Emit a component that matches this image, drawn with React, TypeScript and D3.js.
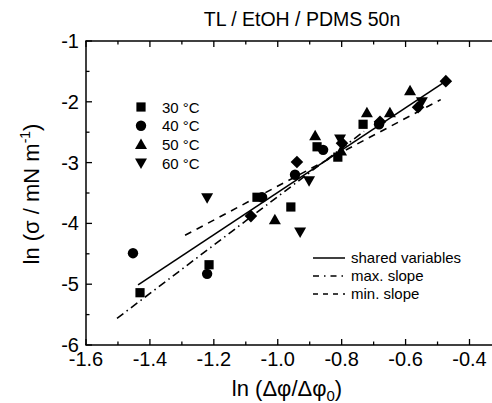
import React from "react";
import * as d3 from "d3";

const W = 492;
const H = 403;

// data series (ln Δφ/Δφ0 , ln σ)
const x30 = [-1.431, -1.215, -1.065, -0.959, -0.877, -0.812, -0.733];
const y30 = [-5.14, -4.68, -3.57, -3.73, -2.74, -2.91, -2.37];
const x40 = [-1.453, -1.221, -1.049, -0.946, -0.858, -0.683];
const y40 = [-4.49, -4.83, -3.57, -3.2, -2.79, -2.37];
const x50 = [-1.009, -0.883, -0.802, -0.721, -0.649, -0.586];
const y50 = [-3.94, -2.56, -2.81, -2.18, -2.18, -1.82];
const x60 = [-1.221, -0.93, -0.902, -0.805, -0.549];
const y60 = [-3.58, -4.14, -3.3, -2.61, -2.0];
const xDia = [-1.084, -0.94, -0.799, -0.68, -0.561, -0.474];
const yDia = [-3.88, -2.99, -2.68, -2.33, -2.09, -1.66];

// fit lines: y = a + b x over [x0, x1]
const lineNames = ["shared variables", "max. slope", "min. slope"];
const lineA = [-0.01, 0.42, -0.597];
const lineB = [3.48, 3.98, 2.79];
const lineX0 = [-1.437, -1.503, -1.29];
const lineX1 = [-0.474, -0.73, -0.49];
const lineDash = ["none", "8 4 1.5 4", "7 6"];

const legendTemps = ["30 °C", "40 °C", "50 °C", "60 °C"];
const legendShapes = ["square", "circle", "up", "down"];

const xMajor = [-1.6, -1.4, -1.2, -1.0, -0.8, -0.6, -0.4];
const xMinor = [-1.5, -1.3, -1.1, -0.9, -0.7, -0.5];
const yMajor = [-1, -2, -3, -4, -5, -6];
const yMinor = [-1.5, -2.5, -3.5, -4.5, -5.5];

const FONT = "'Liberation Sans', Arial, Helvetica, sans-serif";

function marker(shape: string, cx: number, cy: number, key: string) {
  if (shape === "square") return <rect key={key} x={cx - 4.6} y={cy - 4.6} width={9.2} height={9.2} fill="#000" />;
  if (shape === "circle") return <circle key={key} cx={cx} cy={cy} r={5.2} fill="#000" />;
  if (shape === "up")
    return <path key={key} d={`M${cx},${cy - 6}L${cx + 6},${cy + 4.5}L${cx - 6},${cy + 4.5}Z`} fill="#000" />;
  if (shape === "down")
    return <path key={key} d={`M${cx},${cy + 6}L${cx + 6},${cy - 4.5}L${cx - 6},${cy - 4.5}Z`} fill="#000" />;
  return <path key={key} d={`M${cx},${cy - 6.3}L${cx + 6.3},${cy}L${cx},${cy + 6.3}L${cx - 6.3},${cy}Z`} fill="#000" />;
}

export default function App() {
  const x = d3.scaleLinear().domain([-1.6, -0.4]).range([86, 469.5]);
  const y = d3.scaleLinear().domain([-6, -1]).range([345, 41]);
  const left = x(-1.6);
  const right = W;
  const top = y(-1);
  const bottom = y(-6);

  const series = [
    { xs: x30, ys: y30, shape: "square" },
    { xs: x40, ys: y40, shape: "circle" },
    { xs: x50, ys: y50, shape: "up" },
    { xs: x60, ys: y60, shape: "down" },
    { xs: xDia, ys: yDia, shape: "diamond" },
  ];

  return (
    <svg width={W} height={H} style={{ position: "absolute", left: 0, top: 0, background: "#fff" }} fontFamily={FONT}>
      <rect x={0} y={0} width={W} height={H} fill="#fff" />
      {/* title */}
      <text x={302} y={26} fontSize={19.5} textAnchor="middle" fill="#000">
        TL / EtOH / PDMS 50n
      </text>

      {/* fit lines */}
      {lineNames.map((n, i) => {
        const pts: [number, number][] = [
          [x(lineX0[i]), y(lineA[i] + lineB[i] * lineX0[i])],
          [x(lineX1[i]), y(lineA[i] + lineB[i] * lineX1[i])],
        ];
        const d = d3.line()(pts) as string;
        return (
          <path key={n} d={d} fill="none" stroke="#000" strokeWidth={1.6} strokeDasharray={lineDash[i] === "none" ? undefined : lineDash[i]} />
        );
      })}

      {/* markers */}
      {series.map((s, si) => s.xs.map((v, i) => marker(s.shape, x(v), y(s.ys[i]), `m${si}-${i}`)))}

      {/* frame (right edge lies beyond the picture) */}
      <line x1={left} x2={left} y1={top} y2={bottom} stroke="#000" strokeWidth={1.5} />
      <line x1={left - 0.75} x2={right} y1={top} y2={top} stroke="#000" strokeWidth={1.5} />
      <line x1={left - 0.75} x2={right} y1={bottom} y2={bottom} stroke="#000" strokeWidth={1.5} />

      {/* x ticks */}
      {xMajor.map((t) => (
        <g key={`xM${t}`}>
          <line x1={x(t)} x2={x(t)} y1={bottom} y2={bottom - 6} stroke="#000" strokeWidth={1.3} />
          <line x1={x(t)} x2={x(t)} y1={top} y2={top + 6} stroke="#000" strokeWidth={1.3} />
          <text x={x(t)} y={366} fontSize={20} textAnchor="middle" fill="#000">
            {t.toFixed(1)}
          </text>
        </g>
      ))}
      {xMinor.map((t) => (
        <g key={`xm${t}`}>
          <line x1={x(t)} x2={x(t)} y1={bottom} y2={bottom - 3.5} stroke="#000" strokeWidth={1.3} />
          <line x1={x(t)} x2={x(t)} y1={top} y2={top + 3.5} stroke="#000" strokeWidth={1.3} />
        </g>
      ))}

      {/* y ticks */}
      {yMajor.map((t) => (
        <g key={`yM${t}`}>
          <line x1={left} x2={left + 6} y1={y(t)} y2={y(t)} stroke="#000" strokeWidth={1.3} />
          <text x={79} y={y(t) + 7} fontSize={20} textAnchor="end" fill="#000">
            {String(t)}
          </text>
        </g>
      ))}
      {yMinor.map((t) => (
        <line key={`ym${t}`} x1={left} x2={left + 3.5} y1={y(t)} y2={y(t)} stroke="#000" strokeWidth={1.3} />
      ))}

      {/* axis labels */}
      <text x={287} y={396} fontSize={22} textAnchor="middle" fill="#000">
        ln (Δφ/Δφ<tspan dy={5} fontSize={15}>0</tspan>
        <tspan dy={-5}>)</tspan>
      </text>
      <text transform={`translate(39,194) rotate(-90)`} fontSize={22} textAnchor="middle" fill="#000">
        ln (σ / mN m<tspan dy={-9} fontSize={14}>-1</tspan>
        <tspan dy={9}>)</tspan>
      </text>

      {/* temperature legend */}
      {legendTemps.map((t, i) => {
        const ly = 107 + i * 18.7;
        return (
          <g key={t}>
            {marker(legendShapes[i], 141, ly, `lg${i}`)}
            <text x={162} y={ly + 5.5} fontSize={15} fill="#000">
              {t}
            </text>
          </g>
        );
      })}

      {/* line legend */}
      {lineNames.map((n, i) => {
        const ly = 258 + i * 18;
        return (
          <g key={`ll${n}`}>
            <line x1={313} x2={345} y1={ly} y2={ly} stroke="#000" strokeWidth={1.5} strokeDasharray={lineDash[i] === "none" ? undefined : i === 1 ? "6 5 1.5 5" : "5 5"} />
            <text x={351} y={ly + 5} fontSize={15} fill="#000">
              {n}
            </text>
          </g>
        );
      })}
    </svg>
  );
}
